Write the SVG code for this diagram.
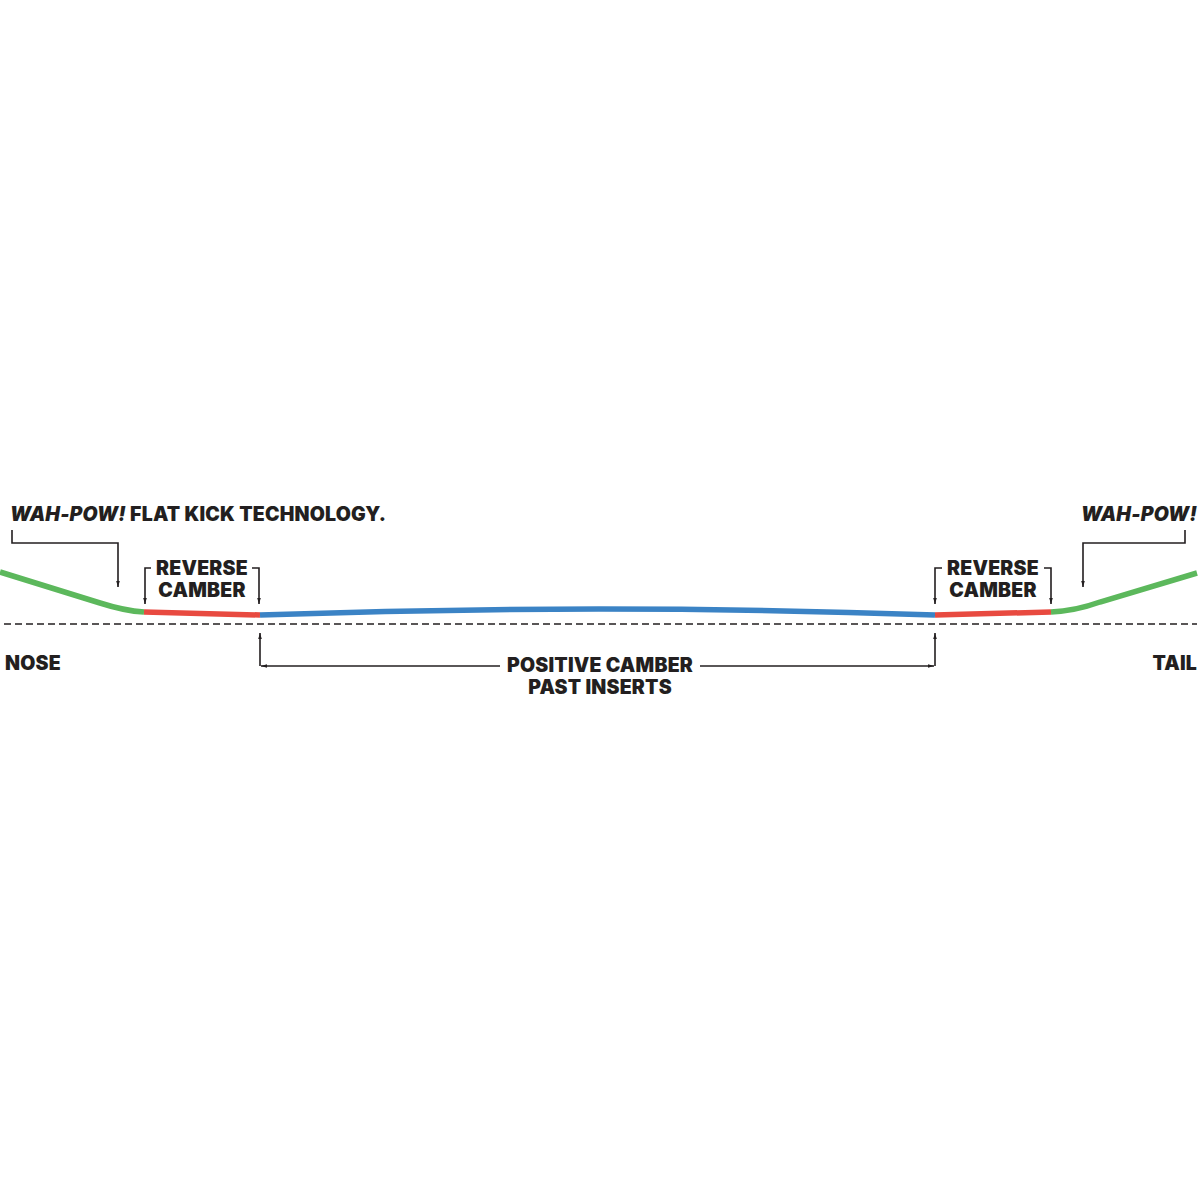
<svg xmlns="http://www.w3.org/2000/svg" width="1200" height="1200" viewBox="0 0 1200 1200">
<style>
.t{font-family:Inter,"Liberation Sans",sans-serif;font-weight:900;font-size:19.5px;letter-spacing:0.2px;fill:#231f20}
.it{font-style:italic}
.ln{fill:none;stroke:#231f20;stroke-width:1.6}
.bd{fill:none;stroke-width:5.5;stroke-linecap:butt}
</style>
<defs>
<marker id="ah" viewBox="0 0 10 10" refX="10" refY="5" markerWidth="6" markerHeight="7" markerUnits="userSpaceOnUse" orient="auto"><path d="M0,2 L10,5 L0,8 Z" fill="#231f20"/></marker>
</defs>
<rect width="1200" height="1200" fill="#fff"/>
<g id="board">
<path class="bd" stroke="#5cb85c" d="M0,572 L100,603 Q125,611 144,612"/>
<path class="bd" stroke="#e84a40" d="M144,612 L260,615"/>
<path class="bd" stroke="#3b83c5" d="M260,615 Q600,603 935,615"/>
<path class="bd" stroke="#e84a40" d="M935,615 L1051,612"/>
<path class="bd" stroke="#5cb85c" d="M1051,612 Q1075,611 1100,602 L1197,573"/>
</g>
<g id="baseline">
<line x1="4" y1="624" x2="1197" y2="624" stroke="#231f20" stroke-width="1.6" stroke-dasharray="7,4"/>
</g>
<g id="connectors">
<path class="ln" marker-end="url(#ah)" d="M12,530 V543 H118 V587"/>
<path class="ln" marker-end="url(#ah)" d="M1185,530 V543 H1083 V587"/>
<path class="ln" marker-end="url(#ah)" d="M151,568 H145 V604"/>
<path class="ln" marker-end="url(#ah)" d="M252,568 H259 V604"/>
<path class="ln" marker-end="url(#ah)" d="M942,568 H935 V604"/>
<path class="ln" marker-end="url(#ah)" d="M1044,568 H1051 V604"/>
<path class="ln" marker-end="url(#ah)" d="M260,666 V633"/>
<path class="ln" marker-end="url(#ah)" d="M500,666 H261"/>
<path class="ln" marker-end="url(#ah)" d="M935,666 V633"/>
<path class="ln" marker-end="url(#ah)" d="M700,666 H934"/>
</g>
<g id="label-wahpow-left">
<text class="t" x="10" y="521"><tspan class="it">WAH-POW!</tspan> FLAT KICK TECHNOLOGY.</text>
</g>
<g id="label-wahpow-right">
<text class="t it" x="1197" y="521" text-anchor="end">WAH-POW!</text>
</g>
<g id="label-reverse-left">
<text class="t" x="202" y="575" text-anchor="middle">REVERSE</text>
<text class="t" x="202" y="597" text-anchor="middle">CAMBER</text>
</g>
<g id="label-reverse-right">
<text class="t" x="993" y="575" text-anchor="middle">REVERSE</text>
<text class="t" x="993" y="597" text-anchor="middle">CAMBER</text>
</g>
<g id="label-positive">
<text class="t" x="600" y="672" text-anchor="middle">POSITIVE CAMBER</text>
<text class="t" x="600" y="694" text-anchor="middle">PAST INSERTS</text>
</g>
<g id="label-nose"><text class="t" x="5" y="670">NOSE</text></g>
<g id="label-tail"><text class="t" x="1197" y="670" text-anchor="end">TAIL</text></g>
</svg>
